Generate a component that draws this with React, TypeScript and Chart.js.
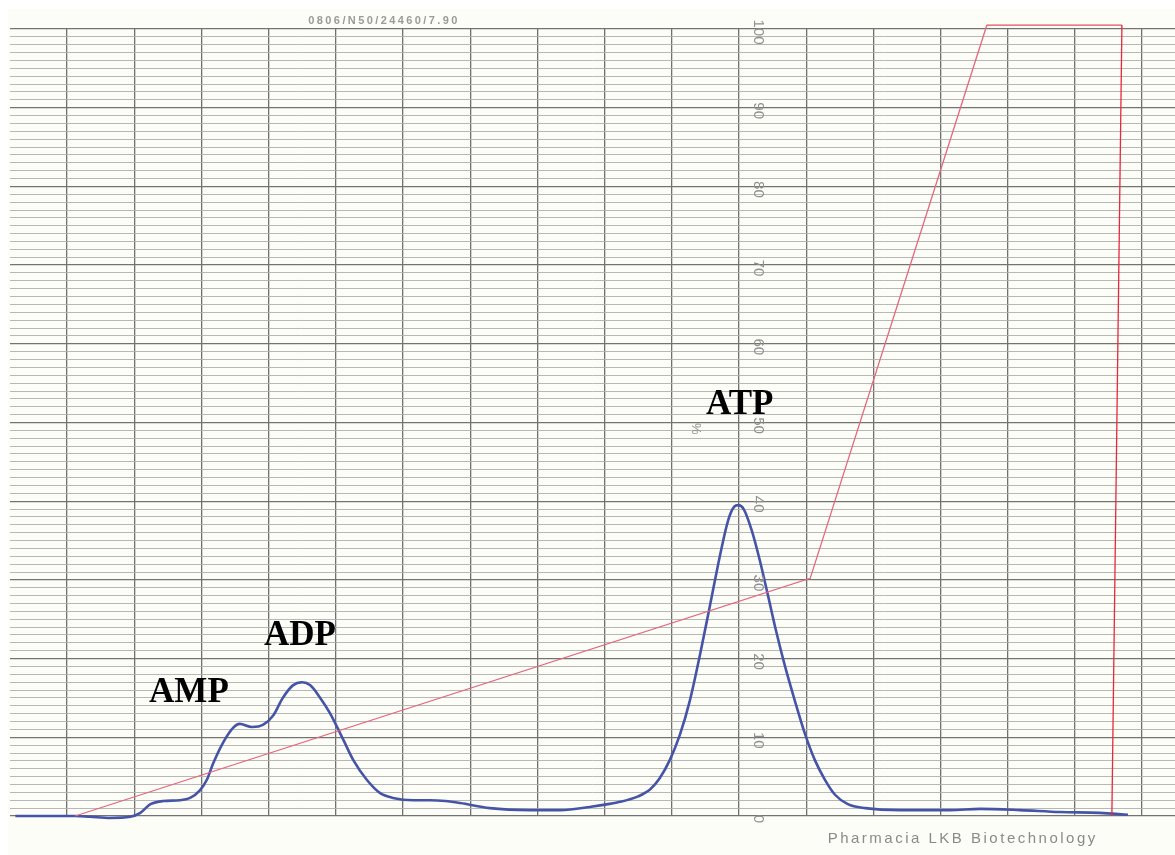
import React, { useEffect, useRef } from "react";
import { Chart, registerables } from "chart.js";

Chart.register(...registerables);

// Elution position (chart-paper divisions) and absorbance (% full scale)
const absorbanceX = [
  -0.77, -0.4, 0.12, 0.34, 0.64, 0.94, 1.09, 1.24, 1.43, 1.68, 1.83, 1.98, 2.08, 2.17, 2.32, 2.47,
  2.57, 2.75, 2.92, 3.07, 3.21, 3.36, 3.5, 3.62, 3.76, 3.91, 4.11, 4.26, 4.46, 4.66, 4.85, 5.15,
  5.4, 5.63, 5.85, 6.29, 6.89, 7.34, 7.78, 8.23, 8.5, 8.68, 8.82, 8.97, 9.12, 9.27, 9.42, 9.57,
  9.72, 9.84, 9.93, 9.99, 10.07, 10.19, 10.31, 10.43, 10.55, 10.68, 10.83, 10.98, 11.13, 11.28,
  11.43, 11.62, 11.88, 12.4, 13.14, 13.59, 14.18, 14.78, 15.37, 15.79,
];
const absorbanceY = [
  0, 0, 0, -0.1, -0.25, -0.1, 0.4, 1.5, 1.9, 2.0, 2.3, 3.3, 4.6, 6.6, 9.3, 11.2,
  11.7, 11.3, 11.6, 12.8, 15.0, 16.6, 17.0, 16.6, 15.1, 13.1, 9.7, 7.1, 4.6, 2.9, 2.3, 2.0,
  2.0, 1.9, 1.65, 1.0, 0.75, 0.75, 1.15, 1.8, 2.5, 3.4, 4.8, 7.1, 10.3, 14.7, 20.5, 26.8,
  33.2, 37.6, 39.3, 39.5, 39.0, 36.3, 32.5, 28.1, 23.6, 19.2, 14.7, 10.5, 7.1, 4.6,
  2.7, 1.5, 1.0, 0.75, 0.75, 0.9, 0.75, 0.5, 0.4, 0.15,
];

// Salt gradient (% buffer B)
const gradientX = [0.12, 11.06, 13.69, 15.7, 15.55];
const gradientY = [0, 30.2, 100.5, 100.5, 0];

// Grid / tick values
const xGridValues = [0, 1, 2, 3, 4, 5, 6, 7, 8, 9, 10, 11, 12, 13, 14, 15, 16];
const yTickLabels = ["0", "10", "20", "30", "40", "50", "60", "70", "80", "90", "100"];
const yTickValues = [0, 10, 20, 30, 40, 50, 60, 70, 80, 90, 100];

// Peak annotations
const peakLabels = ["AMP", "ADP", "ATP"];
const peakLabelX = [1.22, 2.93, 9.51];
const peakLabelY = [14.5, 21.7, 51.1];

const headerText = "0806/N50/24460/7.90";
const footerText = "Pharmacia LKB Biotechnology";
const unitText = "%";

const X_MIN = -0.85;
const X_MAX = 16.49;
const Y_LABEL_COLUMN = 10.28;
const HEADER_X = 3.59;
const FOOTER_X = 11.32;
const UNIT_X = 9.35;
const UNIT_Y = 49.2;

const paperPlugin = {
  id: "paper",
  beforeDraw(chart: any) {
    const { ctx, width, height } = chart;
    ctx.save();
    ctx.fillStyle = "#fdfdf8";
    ctx.fillRect(0, 0, width, height);
    ctx.fillStyle = "#ffffff";
    ctx.fillRect(0, 0, width, 9);
    ctx.fillRect(0, 0, 8, height);
    ctx.restore();
  },
  afterDatasetsDraw(chart: any) {
    const { ctx, chartArea } = chart;
    const xs = chart.scales.x;
    const ys = chart.scales.y;
    ctx.save();

    // rotated y labels
    ctx.fillStyle = "#8f8f8f";
    ctx.font = "15px 'Liberation Sans', Arial, sans-serif";
    ctx.textAlign = "center";
    ctx.textBaseline = "middle";
    const lx = xs.getPixelForValue(Y_LABEL_COLUMN);
    yTickValues.forEach((v, i) => {
      const py = ys.getPixelForValue(v) + 3;
      ctx.save();
      ctx.translate(lx, py);
      ctx.rotate(Math.PI / 2);
      ctx.fillText(yTickLabels[i], 0, 0);
      ctx.restore();
    });

    // % sign
    ctx.save();
    ctx.font = "13px 'Liberation Sans', Arial, sans-serif";
    ctx.translate(xs.getPixelForValue(UNIT_X), ys.getPixelForValue(UNIT_Y));
    ctx.rotate(Math.PI / 2);
    ctx.fillText(unitText, 0, 0);
    ctx.restore();

    // header
    ctx.fillStyle = "#9a9a9a";
    ctx.textAlign = "left";
    ctx.textBaseline = "alphabetic";
    ctx.font = "bold 11px 'Liberation Sans', Arial, sans-serif";
    try { (ctx as any).letterSpacing = "2.4px"; } catch (e) {}
    ctx.fillText(headerText, xs.getPixelForValue(HEADER_X), chartArea.top - 5);

    // footer
    ctx.fillStyle = "#8a8a8a";
    ctx.font = "15px 'Liberation Sans', Arial, sans-serif";
    try { (ctx as any).letterSpacing = "2.5px"; } catch (e) {}
    ctx.fillText(footerText, xs.getPixelForValue(FOOTER_X), chartArea.bottom + 27);
    try { (ctx as any).letterSpacing = "0px"; } catch (e) {}

    // peak labels
    ctx.fillStyle = "#000000";
    ctx.font = "bold 35px 'Liberation Serif', 'Times New Roman', serif";
    peakLabels.forEach((t, i) => {
      ctx.fillText(t, xs.getPixelForValue(peakLabelX[i]), ys.getPixelForValue(peakLabelY[i]));
    });
    ctx.restore();
  },
};

export default function App() {
  const canvasRef = useRef<HTMLCanvasElement | null>(null);

  useEffect(() => {
    document.body.style.margin = "0";
    const canvas = canvasRef.current;
    if (!canvas) return;
    const chart = new Chart(canvas, {
      type: "line",
      data: {
        datasets: [
          {
            label: "Gradient",
            data: gradientX.map((x, i) => ({ x, y: gradientY[i] })),
            borderColor: "#e4677a",
            borderWidth: 1.3,
            pointRadius: 0,
            tension: 0,
            clip: false as any,
            segment: {
              borderColor: (c: any) => (c.p0DataIndex === 3 ? "#e8283c" : c.p0DataIndex === 2 ? "#e2505f" : "#e4677a"),
            },
          },
          {
            label: "Absorbance",
            data: absorbanceX.map((x, i) => ({ x, y: absorbanceY[i] })),
            borderColor: "#4654a8",
            borderWidth: 2.6,
            pointRadius: 0,
            tension: 0.4,
            cubicInterpolationMode: "monotone",
            clip: false as any,
          },
        ],
      },
      options: {
        animation: false,
        responsive: false,
        maintainAspectRatio: false,
        layout: { padding: { left: 10, top: 29, right: 0, bottom: 39 } },
        plugins: { legend: { display: false }, tooltip: { enabled: false } },
        scales: {
          x: {
            type: "linear",
            min: X_MIN,
            max: X_MAX,
            ticks: { display: false },
            border: { display: false },
            grid: { color: "#707070", lineWidth: 1.3, drawTicks: false },
            afterBuildTicks: (scale: any) => {
              scale.ticks = xGridValues.map((v) => ({ value: v }));
            },
          },
          y: {
            type: "linear",
            min: 0,
            max: 100,
            ticks: { display: false },
            border: { display: false },
            grid: {
              drawTicks: false,
              color: (c: any) => (c.tick && c.tick.value % 10 === 0 ? "#737373" : "#afafaf"),
              lineWidth: (c: any) => (c.tick && c.tick.value % 10 === 0 ? 1.3 : 0.9),
            },
            afterBuildTicks: (scale: any) => {
              const t = [];
              for (let v = 0; v <= 100; v++) t.push({ value: v });
              scale.ticks = t;
            },
          },
        },
      },
      plugins: [paperPlugin],
    });
    return () => chart.destroy();
  }, []);

  return (
    <div style={{ width: 1175, height: 855, position: "relative" }}>
      <canvas ref={canvasRef} width={1175} height={855} style={{ display: "block" }} />
    </div>
  );
}
